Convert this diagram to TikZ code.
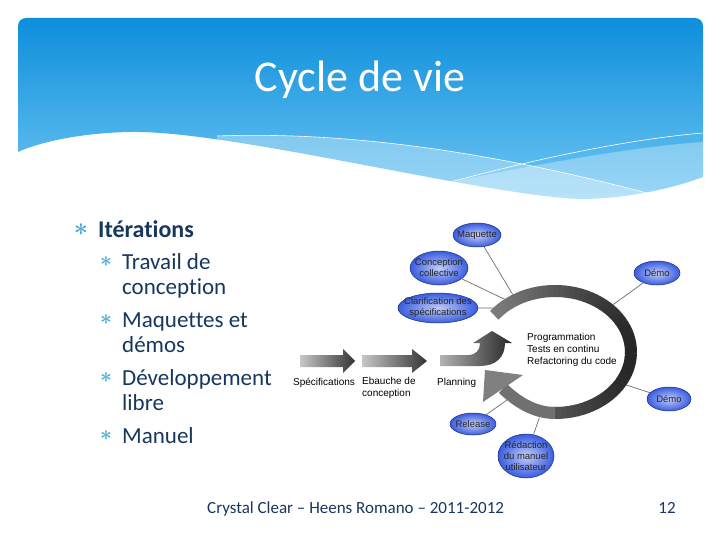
\documentclass[tikz,border=0pt]{standalone}
\usepackage{fontspec}
\setmainfont{Carlito}[Ligatures=NoCommon]
\newfontfamily\arialfont{Liberation Sans}
\usetikzlibrary{shapes.geometric}
\definecolor{hdtop}{HTML}{0E8EDB}
\definecolor{hdbot}{HTML}{6EC6F3}
\definecolor{navy}{HTML}{17375E}
\definecolor{bulblue}{HTML}{4BACD9}
\definecolor{bubin}{HTML}{C2CDF7}
\definecolor{bubout}{HTML}{3A5CDF}
\definecolor{bubline}{HTML}{1B2F7A}
\definecolor{connline}{HTML}{6E6E6E}

\begin{document}
\begin{tikzpicture}[
  x=1pt, y=-1pt,
  bub/.style={ellipse, draw=bubline, line width=0.5pt, inner color=bubin, outer color=bubout, inner sep=0pt},
  bubtxt/.style={font=\arialfont\fontsize{9.5}{11}\selectfont, align=center, text=black!85, inner sep=0pt},
  tag/.style={font=\arialfont\fontsize{10}{12}\selectfont, align=left, inner sep=0pt},
  item/.style={font=\fontsize{23}{25.5}\selectfont, text=navy, align=left, inner sep=0pt, anchor=base west},
  bul/.style={font=\boldmath\fontsize{21}{21}\selectfont, text=bulblue, inner sep=0pt},
  conn/.style={draw=connline, line width=0.7pt},
  ringseg/.style={line width=12pt},
  grayarr/.style={left color=black!22, right color=black!80}
]
\useasboundingbox (0,0) rectangle (720,540);
\fill[white] (0,0) rectangle (720,540);

% Header band with wave
\shade[top color=hdtop, bottom color=hdbot] (18,152) -- (18,26) arc[start angle=180, delta angle=90, radius=8]
  -- (695,18) arc[start angle=270, delta angle=90, radius=8] -- (703,177)
  .. controls (668,190) and (622,199) .. (580,199)
  .. controls (480,195) and (230,130) .. (130,132)
  .. controls (80,133) and (40,142) .. (18,152) -- cycle;
\fill[white, opacity=0.3] (217,136) .. controls (380,130) and (540,165) .. (647,193) -- (647,215) -- (217,215) -- cycle;
\fill[white, opacity=0.3] (430,186) .. controls (520,168) and (620,148) .. (703,142) -- (703,215) -- (430,215) -- cycle;
\fill[white] (0,215) rectangle (720,230);
\draw[white, line width=0.6pt] (217,136) .. controls (380,130) and (540,165) .. (647,193);
\draw[white, line width=0.6pt] (443,184) .. controls (520,163) and (620,140) .. (703,133);

\node[font=\fontsize{44}{48}\selectfont, text=white, anchor=base, inner sep=0pt] (title) at (360,92) {Cycle de vie};

% Bullet list (base = last line)
\node[bul, font=\boldmath\fontsize{23}{23}\selectfont] (b0) at (81,230) {$\ast$};
\node[item, font=\bfseries\fontsize{24}{26}\selectfont] (iter) at (98,237) {Itérations};
\foreach \y in {262,320,378,436}
  \node[bul] (b\y) at (106,\y) {$\ast$};
\node[item] (trav) at (122,294.5) {Travail de\\conception};
\node[item] (maq) at (122,352.5) {Maquettes et\\démos};
\node[item] (dev) at (122,410.5) {Développement\\libre};
\node[item] (man) at (122,443) {Manuel};

% Footer
\node[font=\fontsize{17}{20}\selectfont, text=navy, anchor=base west, inner sep=0pt] (foot) at (207,513) {Crystal Clear – Heens Romano – 2011-2012};
\node[font=\fontsize{17}{20}\selectfont, text=navy, anchor=base, inner sep=0pt] (page) at (667,513) {12};

% Linear phases
\shade[grayarr] (300,355) -- (343,355) -- (343,349) -- (355,361) -- (343,373) -- (343,367) -- (300,367) -- cycle;
\shade[grayarr] (362,355) -- (412,355) -- (412,349) -- (427,361) -- (412,373) -- (412,367) -- (362,367) -- cycle;
\shade[left color=black!30, right color=black!85] (440,355) -- (468,355) .. controls (476,355) and (480,350) .. (480,343)
  -- (473,343) -- (492,331) -- (512,343) -- (505,343) .. controls (505,358) and (495,366) .. (480,366) -- (440,366) -- cycle;
\node[tag, anchor=west] (spec) at (293,383) {Spécifications};
\node[tag, anchor=north west] (ebauche) at (362,377) {Ebauche de\\conception};
\node[tag, anchor=west] (plan) at (437,383) {Planning};

% Iteration cycle
\coordinate (ctr) at (555,352);
\path (ctr) ++(239:82 and 67) coordinate (rmaq);
\path (ctr) ++(232:82 and 67) coordinate (rcon);
\path (ctr) ++(221:82 and 67) coordinate (rcla);
\path (ctr) ++(315:82 and 67) coordinate (rdma);
\path (ctr) ++(29.5:82 and 67) coordinate (rdmb);
\path (ctr) ++(101:82 and 67) coordinate (rred);
\coordinate (rrel) at (507,400);

\node[bub, minimum width=48, minimum height=24, label={[bubtxt]center:Maquette}] (maquette) at (477,235) {};
\node[bub, minimum width=58, minimum height=34, label={[bubtxt]center:{Conception\\collective}}] (conception) at (439,268) {};
\node[bub, minimum width=80, minimum height=30, label={[bubtxt]center:{Clarification des\\spécifications}}] (clarif) at (438,308) {};
\node[bub, minimum width=46, minimum height=24, label={[bubtxt]center:Démo}] (demoa) at (657,273) {};
\node[bub, minimum width=44, minimum height=24, label={[bubtxt]center:Démo}] (demob) at (669,399) {};
\node[bub, minimum width=46, minimum height=22, label={[bubtxt]center:Release}] (release) at (473,424) {};
\node[bub, minimum width=56, minimum height=44, label={[bubtxt]center:{Rédaction\\du manuel\\utilisateur}}] (redaction) at (526,456) {};

\draw[conn] (maquette) -- (rmaq);
\draw[conn] (conception) -- (rcon);
\draw[conn] (clarif) -- (rcla);
\draw[conn] (demoa) -- (rdma);
\draw[conn] (demob) -- (rdmb);
\draw[conn] (release) -- (rrel);
\draw[conn] (redaction) -- (rred);

\foreach \a in {217,221,...,449} {
  \pgfmathsetmacro\shadeval{48+37*(1+cos(\a))/2}
  \draw[ringseg, draw=black!\shadeval] (ctr) ++(\a:76 and 61) arc[start angle=\a, delta angle=4.6, x radius=76, y radius=61];
}
\draw[ringseg, draw=black!56] (ctr) ++(90:76 and 61) .. controls (533,413) and (515,400) .. (503,388.5);
\fill[black!50] (485,370) -- (483,402) -- (523,375) -- cycle;

\node[tag, anchor=west] (prog) at (527,350) {Programmation\\Tests en continu\\Refactoring du code};

\end{tikzpicture}
\end{document}
